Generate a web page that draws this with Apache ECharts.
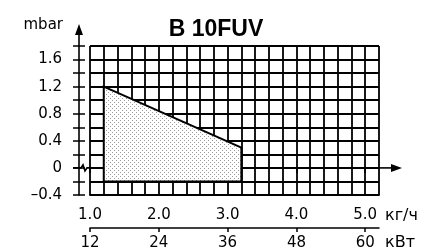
<!DOCTYPE html>
<html>
<head>
<meta charset="utf-8">
<script src="https://cdn.jsdelivr.net/npm/echarts@6/dist/echarts.min.js"></script>
<style>
html,body{margin:0;padding:0;background:#fff}
#chart{width:441px;height:251px}
</style>
</head>
<body>
<div id="chart"></div>
<script>
// tick labels
const flowTicks=[1,2,3,4,5];          // кг/ч
const powerTicks=[12,24,36,48,60];    // кВт
const pressTicks=[-0.4,0,0.4,0.8,1.2,1.6]; // mbar
// working field outline (кг/ч, mbar)
const fieldFlow=[1.2,3.2,3.2,1.2];
const fieldPress=[1.2,0.3,-0.2,-0.2];

const xMin=1,xMax=5.2,yMin=-0.4,yMax=1.8;
const font='DejaVu Sans';

function dots(){
    const c=document.createElement('canvas');
    c.width=4;c.height=4;
    const g=c.getContext('2d');
    g.fillStyle='#fff';g.fillRect(0,0,4,4);
    g.fillStyle='#9a9a9a';
    g.fillRect(0,0,1,1);g.fillRect(2,2,1,1);
    return c;
}
const pattern={image:dots(),repeat:'repeat'};

const chart=echarts.init(document.getElementById('chart'));

chart.setOption({
    animation:false,
    title:{
        text:'B 10FUV',left:211,top:13,textAlign:'center',
        textStyle:{fontFamily:'Liberation Sans',fontWeight:'bold',fontSize:23,color:'#000'}
    },
    grid:{left:90,top:46,right:62,bottom:56,containLabel:false},
    xAxis:[{
        // cell lines every 0.2
        type:'value',min:xMin,max:xMax,interval:0.2,position:'bottom',
        axisLine:{show:true,onZero:false,lineStyle:{color:'#000',width:1.8}},
        splitLine:{show:true,lineStyle:{color:'#000',width:1.8}},
        axisTick:{show:false},axisLabel:{show:false},
        name:'кг/ч',nameLocation:'end',nameGap:6,
        nameTextStyle:{fontFamily:font,fontSize:16,color:'#000',verticalAlign:'top',padding:[13,0,0,0]}
    },{
        type:'value',min:xMin,max:xMax,position:'bottom',
        axisLine:{show:false},splitLine:{show:false},
        axisTick:{show:true,length:5,customValues:flowTicks,lineStyle:{color:'#000',width:1.5}},
        axisLabel:{customValues:flowTicks,formatter:v=>v.toFixed(1),margin:13,
            fontFamily:font,fontSize:15,color:'#000'}
    },{
        type:'value',min:12,max:62.4,position:'bottom',offset:33,
        axisLine:{show:true,onZero:false,lineStyle:{color:'#000',width:1.5}},
        splitLine:{show:false},
        axisTick:{show:true,length:4,customValues:powerTicks,lineStyle:{color:'#000',width:1.5}},
        axisLabel:{customValues:powerTicks,margin:8,fontFamily:font,fontSize:15,color:'#000'},
        name:'кВт',nameLocation:'end',nameGap:6,
        nameTextStyle:{fontFamily:font,fontSize:16,color:'#000',verticalAlign:'top',padding:[7,0,0,0]}
    }],
    yAxis:[{
        type:'value',min:yMin,max:yMax,interval:0.2,position:'left',offset:11,
        axisLine:{show:true,onZero:false,lineStyle:{color:'#000',width:1.6}},
        splitLine:{show:true,lineStyle:{color:'#000',width:1.8}},
        axisTick:{show:true,inside:true,length:6,lineStyle:{color:'#000',width:1.5}},
        axisLabel:{show:false},
        name:'mbar',nameLocation:'end',nameGap:13,
        nameTextStyle:{fontFamily:font,fontSize:15,color:'#000',align:'right',padding:[0,16,0,0]}
    },{
        type:'value',min:yMin,max:yMax,interval:0.2,position:'left',offset:11,
        axisLine:{show:false},splitLine:{show:false},
        axisTick:{show:true,length:6,lineStyle:{color:'#000',width:1.5}},
        axisLabel:{show:false}
    },{
        type:'value',min:yMin,max:yMax,position:'left',offset:11,
        axisLine:{show:false},splitLine:{show:false},axisTick:{show:false},
        axisLabel:{customValues:pressTicks,formatter:v=>v===0?'0':(v<0?'\u2013'+(-v).toFixed(1):v.toFixed(1)),
            margin:17,fontFamily:font,fontSize:15,color:'#000'}
    }],
    series:[{
        type:'custom',coordinateSystem:'cartesian2d',xAxisIndex:0,yAxisIndex:0,
        silent:true,z:3,
        data:[[fieldFlow[0],fieldPress[0]]],
        renderItem:(params,api)=>({
            type:'polygon',
            shape:{points:fieldFlow.map((v,i)=>api.coord([v,fieldPress[i]]))},
            style:{fill:pattern,stroke:'#000',lineWidth:2}
        })
    }]
});

// arrows and axis break mark
const corner=chart.convertToPixel({xAxisIndex:0,yAxisIndex:0},[xMin,yMax]);
const zeroR=chart.convertToPixel({xAxisIndex:0,yAxisIndex:0},[xMax,0]);
const axisX=corner[0]-11, y0=zeroR[1], gTop=corner[1];
const st={stroke:'#000',lineWidth:1.6,fill:null};
chart.setOption({graphic:[
    {type:'line',shape:{x1:axisX,y1:gTop,x2:axisX,y2:gTop-12},style:st,z:10},
    {type:'polygon',shape:{points:[[axisX,gTop-22],[axisX-4,gTop-11],[axisX+4,gTop-11]]},style:{fill:'#000'},z:10},
    {type:'line',shape:{x1:zeroR[0],y1:y0,x2:zeroR[0]+14,y2:y0},style:st,z:10},
    {type:'polygon',shape:{points:[[zeroR[0]+23,y0],[zeroR[0]+12,y0-4],[zeroR[0]+12,y0+4]]},style:{fill:'#000'},z:10},
    {type:'polyline',shape:{points:[[axisX-6,y0],[axisX+2,y0],[axisX+4,y0-3],[axisX+6,y0+3],[axisX+8,y0],[corner[0],y0]]},style:st,z:10}
]});
</script>
</body>
</html>
